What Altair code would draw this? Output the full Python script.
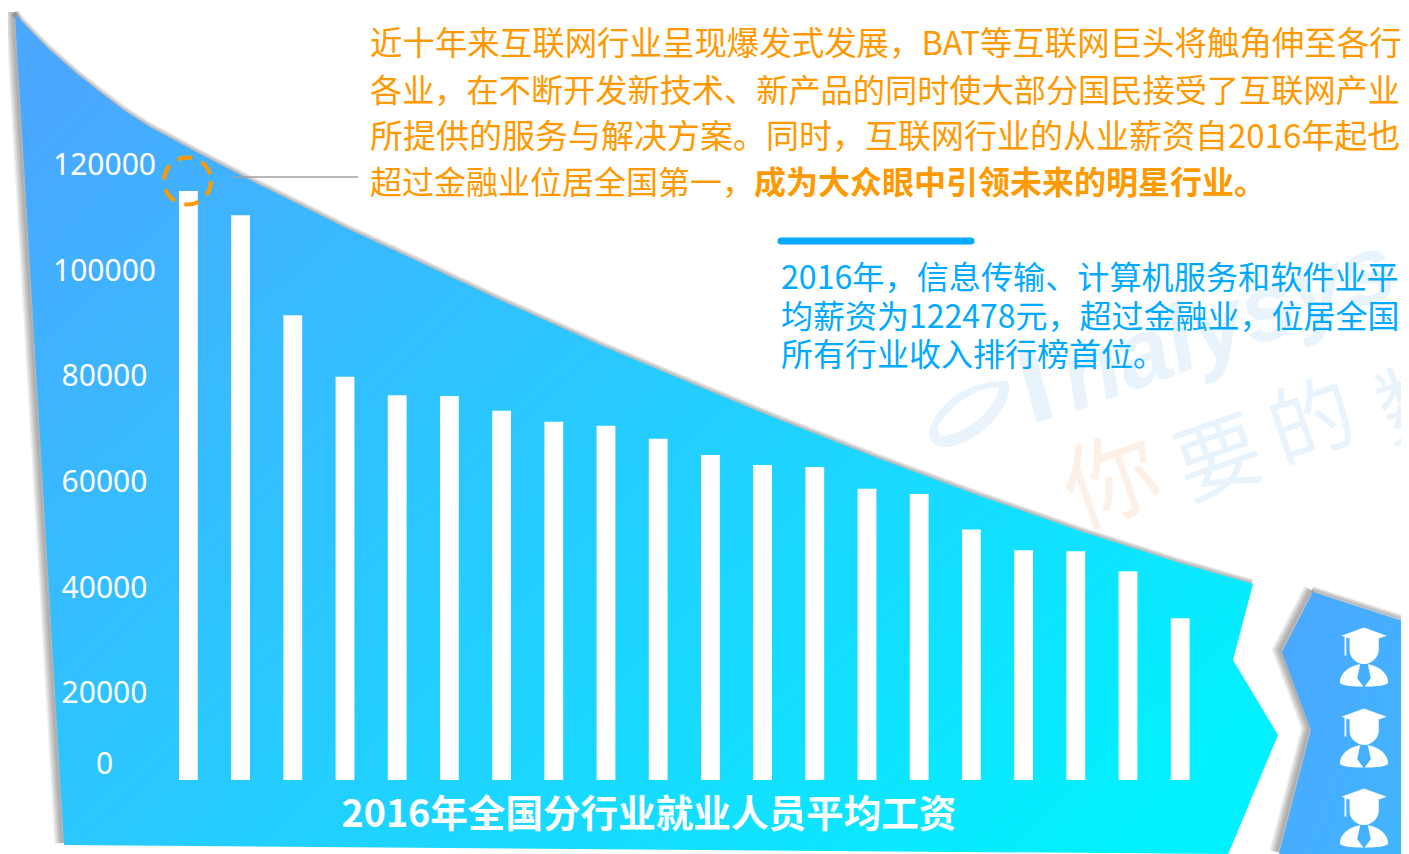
import altair as alt
import pandas as pd

# --- chart values
industries = ["信息传输、计算机服务和软件业", "金融业", "科学研究和技术服务业", "电力、热力、燃气及水", "卫生和社会工作",
              "文化、体育和娱乐业", "租赁和商务服务业", "教育", "交通运输、仓储和邮政业", "公共管理、社会保障",
              "全国平均", "房地产业", "批发和零售业", "采矿业", "制造业",
              "建筑业", "水利、环境和公共设施", "居民服务", "住宿和餐饮业", "农林牧渔业"]
wages = [122478, 117418, 96638, 83863, 80026, 79875, 76782, 74498, 73650, 70959,
         67569, 65497, 65061, 60544, 59470, 52082, 47750, 47577, 43382, 33612]
tick_values = [0, 20000, 40000, 60000, 80000, 100000, 120000]
tick_pixels = [756, 685, 580, 474, 368, 263, 157]

# --- backdrop outline (image pixels): y, left edge, right edge
main_y = [14, 33, 50, 72, 92, 111, 127, 154, 180, 205, 230, 253, 300, 345, 387, 420, 459, 496, 531, 563, 584, 660, 735, 845, 854]
main_l = [15, 16, 17, 18.3, 19.5, 20.7, 21.6, 23.2, 24.8, 26.3, 27.7, 29.1, 31.9, 34.5, 37, 39, 41.2, 43.5, 45.5, 47.4, 48.6, 53.1, 57.5, 64, 1228]
main_r = [15, 33, 50, 75, 100, 125, 150, 200, 250, 300, 350, 400, 500, 600, 700, 780, 880, 980, 1080, 1180, 1253, 1233, 1278, 1232, 1228]
side_y = [592, 623, 652, 730, 854]
side_l = [1313, 1297, 1282, 1311, 1279]
side_r = [1313, 1409, 1409, 1409, 1409]
left_shadow_x = [64, 15]
left_shadow_y = [845, 14]
top_shadow_x = main_r[:21]
top_shadow_y = main_y[:21]
side_shadow_x = [1279, 1311, 1282, 1313]
side_shadow_y = [854, 730, 652, 592]
side_top_shadow_x = [1313, 1409]
side_top_shadow_y = [592, 623]

orange_lines = [("近十年来互联网行业呈现爆发式发展，BAT等互联网巨头将触角伸至各行", 370, 45, 32.45),
                ("各业，在不断开发新技术、新产品的同时使大部分国民接受了互联网产业", 370, 92, 32.2),
                ("所提供的服务与解决方案。同时，互联网行业的从业薪资自2016年起也", 370, 138, 33),
                ("超过金融业位居全国第一，", 370, 184, 32)]
orange_bold = [("成为大众眼中引领未来的明星行业。", 754, 184)]
blue_lines = [("2016年，信息传输、计算机服务和软件业平", 781, 279, 32.15),
              ("均薪资为122478元，超过金融业，位居全国", 781, 318, 32),
              ("所有行业收入排行榜首位。", 781, 356, 32)]
title_text = [("2016年全国分行业就业人员平均工资", 649, 816)]
wm_brand = [("nalysys", 1228, 325)]
wm_orange = [("你", 1113, 485)]
wm_blue = [("要", 1220, 462), ("的", 1313, 425), ("数", 1421, 405)]
icon_x = [1364, 1364, 1364]
icon_y = [657, 738, 818]

GRAD_PATH = ("M0,-1L.77,-.72L0,-.46L-.77,-.72Z"
             "M-.49,-.62L.5,-.62L.5,-.25C.5,.05 .2,.24 0,.24C-.2,.24 -.5,.05 -.49,-.25Z"
             "M-.66,-.72L-.6,-.72L-.6,-.05L-.66,-.05Z"
             "M-.13,.25L-.23,.72L-.02,1C-.3,1 -.65,1 -.82,.88C-.82,.55 -.5,.3 -.13,.25Z"
             "M.13,.25L.23,.72L.02,1C.3,1 .65,1 .82,.88C.82,.55 .5,.3 .13,.25Z")
SWOOSH_PATH = ("M-.76,.3C-.5,-.3 .1,-.65 .8,-.62C.95,-.25 .4,.55 -.4,.7C-.7,.72 -.82,.55 -.76,.3Z"
               "M-.62,.3L-.55,.5C.2,.35 .6,-.2 .62,-.5C.2,-.5 -.3,-.2 -.62,.3Z")

W, H = 1393, 846
px = alt.Scale(domain=[8, 1401], range=[0, W], nice=False, zero=False)
py = alt.Scale(domain=[8, 854], range=[0, H], nice=False, zero=False)
X = lambda f: alt.X(f, type="quantitative", scale=px, axis=None)
Y = lambda f: alt.Y(f, type="quantitative", scale=py, axis=None)


def grad(a, b, y1=0.15, y2=0.85):
    return alt.LinearGradient(gradient="linear", x1=0, y1=y1, x2=1, y2=y2,
                              stops=[alt.GradientStop(offset=0, color=a),
                                     alt.GradientStop(offset=1, color=b)])


def shape(ys, ls, rs, fill):
    d = pd.DataFrame({"y": ys, "l": ls, "r": rs})
    return alt.Chart(d).mark_area(orient="horizontal", fill=fill, line=False).encode(
        y=Y("y"), x=X("l"), x2="r:Q")


def shadow(xs, ys, widths, dx=-2, dy=-2):
    d = pd.DataFrame({"x": [v + dx for v in xs], "y": [v + dy for v in ys], "i": range(len(xs))})
    return [alt.Chart(d).mark_line(color="#444444", opacity=0.1, strokeWidth=w).encode(
        x=X("x"), y=Y("y"), order="i:Q") for w in widths]


def texts(rows, size, color, weight="normal", font="Noto Sans CJK SC", angle=0, **kw):
    d = pd.DataFrame(rows, columns=["t", "x", "y"])
    return alt.Chart(d).mark_text(align=kw.pop("align", "left"), baseline="middle", fontSize=size,
                                  color=color, fontWeight=weight, font=font, angle=angle, **kw).encode(
        x=X("x"), y=Y("y"), text="t:N")


wm = [
    alt.Chart(pd.DataFrame({"x": [968], "y": [412]})).mark_point(
        shape=SWOOSH_PATH, size=10000, filled=True, color="#E9F3FC", opacity=1, strokeWidth=0
    ).encode(x=X("x"), y=Y("y")),
    alt.Chart(pd.DataFrame({"x": [1026], "x2": [1045], "y": [352], "y2": [420]})).mark_rule(
        color="#E9F3FC", strokeWidth=17).encode(x=X("x"), x2="x2:Q", y=Y("y"), y2="y2:Q"),
    texts(wm_brand, 95, "#E9F3FC", weight="bold", font="Liberation Sans", angle=340, align="center", fontStyle="italic"),
    texts(wm_orange, 95, "#FDF1E7", angle=341, align="center"),
    texts(wm_blue, 85, "#E9F3FC", angle=341, align="center"),
]

bars = alt.Chart(pd.DataFrame({"c": industries, "v": wages})).mark_bar(color="white").encode(
    x=alt.X("c:N", sort=None, axis=None,
            scale=alt.Scale(range=[154.3, 1198.3], paddingInner=0.64, paddingOuter=0.32)),
    y=alt.Y("v:Q", axis=None, scale=alt.Scale(domain=[0, 122478], range=[772, 183], nice=False, zero=False)),
)

axis_layer = alt.Chart(pd.DataFrame({"v": tick_values})).mark_point(opacity=0).encode(
    x=alt.value(0),
    y=alt.Y("v:Q", title=None,
            scale=alt.Scale(domain=tick_values, range=tick_pixels, nice=False, zero=False),
            axis=alt.Axis(values=tick_values, orient="left", offset=-96, domain=False, ticks=False, grid=False,
                          labelAlign="center", labelBaseline="middle", labelPadding=0, labelFontSize=30,
                          labelColor="#FFFFFF", labelFont="Noto Sans", labelOverlap=False, labelFlush=False,
                          labelBound=False, format="d", zindex=1)),
)

ring = alt.Chart(pd.DataFrame({"x": [187.5], "y": [181]})).mark_point(
    shape="circle", size=2209, filled=False, color="#FF9900", strokeWidth=4, strokeDash=[15, 10], opacity=1
).encode(x=X("x"), y=Y("y"))

leader = alt.Chart(pd.DataFrame({"x": [233], "x2": [358], "y": [177]})).mark_rule(
    color="#A0A0A0", strokeWidth=1.5).encode(x=X("x"), x2="x2:Q", y=Y("y"))

accent = alt.Chart(pd.DataFrame({"x": [781], "x2": [971], "y": [241]})).mark_rule(
    color="#00AAFF", strokeWidth=7, strokeCap="round").encode(x=X("x"), x2="x2:Q", y=Y("y"))

icons = alt.Chart(pd.DataFrame({"x": icon_x, "y": icon_y})).mark_point(
    shape=GRAD_PATH, size=3480, filled=True, color="white", opacity=1, strokeWidth=0
).encode(x=X("x"), y=Y("y"))

wide = (15, 12, 9, 6, 3)
thin = (8, 6, 4, 2)
layers = wm + shadow(left_shadow_x, left_shadow_y, wide) + shadow(top_shadow_x, top_shadow_y, thin, dx=-1, dy=-1) \
    + shadow(side_shadow_x, side_shadow_y, wide) + shadow(side_top_shadow_x, side_top_shadow_y, thin, dx=-1, dy=-2) + [
    shape(main_y, main_l, main_r, grad("#4AA8FF", "#00F2FF")),
    shape(side_y, side_l, side_r, grad("#4AA8FF", "#42B4FF")),
    bars, axis_layer, ring, leader, accent, icons,
] + [texts([r[:3]], r[3], "#FF9900") for r in orange_lines] + [
    texts(orange_bold, 32, "#FF9900", weight="bold"),
] + [texts([r[:3]], r[3], "#00AAFF") for r in blue_lines] + [
    texts(title_text, 37.6, "#FFFFFF", weight="bold", align="center"),
]

chart = alt.layer(*layers).resolve_scale(x="independent", y="independent").properties(
    width=W, height=H, padding=0, autosize=alt.AutoSizeParams(type="none"), background="white"
).configure_view(stroke=None)

chart.save("out.html", embed_options={"renderer": "svg", "actions": False})
